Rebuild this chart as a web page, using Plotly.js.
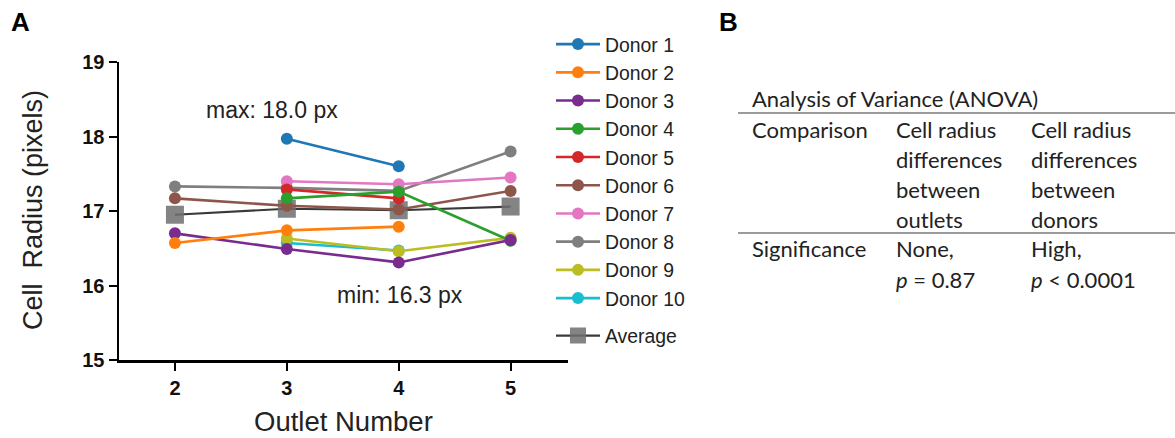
<!DOCTYPE html>
<html>
<head>
<meta charset="utf-8">
<script src="https://cdn.plot.ly/plotly-3.0.1.min.js"></script>
<style>html,body{margin:0;padding:0;background:#fff;}#chart{width:1175px;height:438px;}</style>
</head>
<body>
<div id="chart"></div>
<script>
// ---- data ----
const outlets = [2, 3, 4, 5];
const donorNames = ["Donor 1","Donor 2","Donor 3","Donor 4","Donor 5","Donor 6","Donor 7","Donor 8","Donor 9","Donor 10"];
const donor1  = [null, 17.97, 17.60, null];
const donor2  = [16.57, 16.74, 16.79, null];
const donor3  = [16.70, 16.49, 16.31, 16.61];
const donor4  = [null, 17.17, 17.26, 16.60];
const donor5  = [null, 17.29, 17.17, null];
const donor6  = [17.17, 17.07, 17.02, 17.27];
const donor7  = [null, 17.40, 17.36, 17.45];
const donor8  = [17.33, 17.31, 17.27, 17.80];
const donor9  = [null, 16.63, 16.46, 16.64];
const donor10 = [null, 16.57, 16.47, null];
const average = [16.95, 17.03, 17.01, 17.06];
const donorValues = [donor1, donor2, donor3, donor4, donor5, donor6, donor7, donor8, donor9, donor10];
const donorColors = ["#1f77b4","#ff7f0e","#7a2b8e","#2ca02c","#d62728","#8c564b","#e377c2","#7f7f7f","#bcbd22","#17becf"];
const yTicks = [15, 16, 17, 18, 19];
const xTitle = "Outlet Number";
const yTitle = "Cell&nbsp; Radius (pixels)";
const maxLabel = "max: 18.0 px";
const minLabel = "min: 16.3 px";
const tableTitle = "Analysis of Variance (ANOVA)";
const rowLabels = ["Comparison", "Significance"];
const col1Lines = [["Cell radius","differences","between","outlets"], ["None,","<i>p</i> = 0.87"]];
const col2Lines = [["Cell radius","differences","between","donors"], ["High,","<i>p</i> &lt; 0.0001"]];

// ---- geometry helpers (pixel -> paper) ----
const W = 1175, H = 438;
const mL = 119, mR = W - 568, mT = 62, mB = H - 360;
const pw = W - mL - mR, ph = H - mT - mB;
const px = x => (x - mL) / pw;
const py = y => (H - mB - y) / ph;

const arial = "Liberation Sans, Arial, sans-serif";
const tfont = "Lato, Noto Sans, sans-serif";

const traces = [];
// draw Average first, then donors in reverse so earlier donors sit on top
traces.push({
  x: outlets, y: average, name: "Average", mode: "lines+markers",
  line: {color: "#3a3a3a", width: 2.2},
  marker: {symbol: "square", size: 18, color: "rgba(110,110,110,0.85)"},
  legend: "legend2", legendrank: 100
});
for (let i = donorValues.length - 1; i >= 0; i--) {
  traces.push({
    x: outlets, y: donorValues[i], name: donorNames[i], mode: "lines+markers",
    connectgaps: false,
    line: {color: donorColors[i], width: 2.6},
    marker: {symbol: "circle", size: 12, color: donorColors[i]},
    legendrank: i + 1
  });
}

function pa(x, y, text, font, extra) {
  return Object.assign({xref: "paper", yref: "paper", x: px(x), y: py(y), text: text,
    showarrow: false, xanchor: "center", yanchor: "middle", font: font}, extra || {});
}
const tf = {family: tfont, size: 22, color: "#222"};

const annotations = [
  {xref: "x", yref: "y", x: 2.871, y: 18.36, text: maxLabel, showarrow: false,
   xanchor: "center", yanchor: "middle", font: {family: arial, size: 23, color: "#222"}},
  {xref: "x", yref: "y", x: 4.009, y: 15.87, text: minLabel, showarrow: false,
   xanchor: "center", yanchor: "middle", font: {family: arial, size: 23, color: "#222"}},
  pa(343, 421, xTitle, {family: arial, size: 27.5, color: "#222"}),
  pa(33, 210, yTitle, {family: arial, size: 27, color: "#222"}, {textangle: -90}),
  pa(20, 22, "<b>A</b>", {family: arial, size: 26, color: "#000"}),
  pa(728, 22, "<b>B</b>", {family: arial, size: 26, color: "#000"}),
  pa(750, 98, tableTitle, tf, {xanchor: "left"})
];
const rowTop = [129, 249];
const lineGap = 30;
const colX = [750, 894, 1029];
for (let r = 0; r < 2; r++) {
  annotations.push(pa(colX[0], rowTop[r], rowLabels[r], tf, {xanchor: "left"}));
  [col1Lines[r], col2Lines[r]].forEach((lines, c) => {
    lines.forEach((t, k) => {
      annotations.push(pa(colX[c + 1], rowTop[r] + k * lineGap, t, tf, {xanchor: "left"}));
    });
  });
}

const shapes = [
  {type: "line", xref: "paper", yref: "paper", x0: px(738), x1: px(1175), y0: py(113), y1: py(113),
   line: {color: "#7a7a7a", width: 1.5}},
  {type: "line", xref: "paper", yref: "paper", x0: px(738), x1: px(1175), y0: py(233), y1: py(233),
   line: {color: "#7a7a7a", width: 1.5}}
];

const axisCommon = {
  showline: true, linecolor: "#000", linewidth: 2.5, mirror: false,
  ticks: "outside", ticklen: 8, tickwidth: 2, tickcolor: "#000",
  showgrid: false, zeroline: false, fixedrange: true,
  tickfont: {family: arial, size: 20, color: "#111", weight: "bold"}
};

const layout = {
  width: W, height: H,
  margin: {l: mL, r: mR, t: mT, b: mB, pad: 0},
  paper_bgcolor: "#fff", plot_bgcolor: "#fff",
  showlegend: true,
  xaxis: Object.assign({}, axisCommon, {
    range: [1.5, 5.513], tickvals: outlets, ticktext: outlets.map(String)
  }),
  yaxis: Object.assign({}, axisCommon, {
    range: [15, 19], tickvals: yTicks
  }),
  legend: {
    x: px(551), xanchor: "left", y: py(25), yanchor: "top",
    font: {family: arial, size: 19.4, color: "#222"},
    bgcolor: "rgba(0,0,0,0)", borderwidth: 0, traceorder: "normal",
    itemwidth: 44, maxheight: 420
  },
  legend2: {
    x: px(551), xanchor: "left", y: py(336), yanchor: "middle",
    font: {family: arial, size: 19.4, color: "#222"},
    bgcolor: "rgba(0,0,0,0)", borderwidth: 0, itemwidth: 44
  },
  annotations: annotations,
  shapes: shapes
};

Plotly.newPlot("chart", traces, layout, {staticPlot: true, displayModeBar: false});
</script>
</body>
</html>
